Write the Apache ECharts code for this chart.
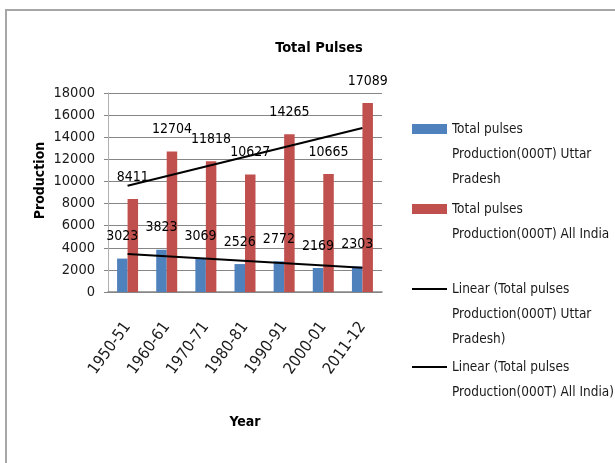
<!DOCTYPE html>
<html>
<head>
<meta charset="utf-8">
<script src="https://cdn.jsdelivr.net/npm/echarts@6/dist/echarts.min.js"></script>
<style>
  html, body { margin: 0; padding: 0; background: #fff; }
  #graph { width: 615px; height: 463px; }
</style>
</head>
<body>
<div id="graph"></div>
<script>
const years = ['1950-51', '1960-61', '1970-71', '1980-81', '1990-91', '2000-01', '2011-12']
const upProduction = [3023, 3823, 3069, 2526, 2772, 2169, 2303]
const indiaProduction = [8411, 12704, 11818, 10627, 14265, 10665, 17089]
// trend line end points (first and last year)
const upTrend = [3430, 2195]
const indiaTrend = [9610, 14840]
const yTicks = [0, 2000, 4000, 6000, 8000, 10000, 12000, 14000, 16000, 18000]

const upName = 'Total pulses Production(000T) Uttar Pradesh'
const indiaName = 'Total pulses Production(000T) All India'
const upTrendName = 'Linear (Total pulses Production(000T) Uttar Pradesh)'
const indiaTrendName = 'Linear (Total pulses Production(000T) All India)'

const legendLines = {}
legendLines[upName] = ['Total pulses', 'Production(000T) Uttar', 'Pradesh']
legendLines[indiaName] = ['Total pulses', 'Production(000T) All India']
legendLines[upTrendName] = ['Linear (Total pulses', 'Production(000T) Uttar', 'Pradesh)']
legendLines[indiaTrendName] = ['Linear (Total pulses', 'Production(000T) All India)']

const FONT = '"Liberation Sans Narrow", "DejaVu Sans Condensed", "Arial Narrow", sans-serif'
const LINE_H = 25

const chart = echarts.init(document.getElementById('graph'))

// icon sits on the first line: pad the text above with blank lines so it stays centred
function legendFor (name, firstLineY, isLine) {
  const lines = legendLines[name]
  const blanks = new Array(lines.length - 1).fill(' ')
  const text = blanks.concat(lines).join('\n')
  return {
    data: [{ name, icon: 'rect' }],
    left: 412,
    top: firstLineY - (2 * lines.length - 1) * LINE_H / 2,
    padding: 0,
    orient: 'vertical',
    itemWidth: 35,
    itemHeight: isLine ? 2 : 10,
    selectedMode: false,
    formatter: () => text,
    textStyle: {
      fontFamily: FONT,
      fontSize: 13.5,
      color: '#1a1a1a',
      lineHeight: LINE_H
    }
  }
}

const barLabel = {
  show: true,
  position: 'top',
  distance: 15,
  color: '#000',
  fontFamily: FONT,
  fontSize: 14
}

const option = {
  animation: false,
  backgroundColor: '#fff',
  title: {
    text: 'Total Pulses',
    left: 314,
    textAlign: 'center',
    top: 36,
    textStyle: { fontFamily: FONT, fontWeight: 'bold', fontSize: 14.5, color: '#000' }
  },
  graphic: [{
    type: 'rect',
    shape: { x: 6, y: 10, width: 700, height: 500 },
    style: { fill: 'none', stroke: '#a6a6a6', lineWidth: 2 },
    silent: true
  }],
  legend: [
    legendFor(upName, 129, false),
    legendFor(indiaName, 209, false),
    legendFor(upTrendName, 289, true),
    legendFor(indiaTrendName, 367, true)
  ],
  grid: { left: 108, right: 233, top: 93, bottom: 171, containLabel: false },
  xAxis: {
    type: 'category',
    data: years,
    name: 'Year',
    nameLocation: 'middle',
    nameGap: 123,
    nameTextStyle: { fontFamily: FONT, fontWeight: 'bold', fontSize: 14, color: '#000' },
    axisLine: { lineStyle: { color: '#868686', width: 1.5 } },
    axisTick: { show: false },
    axisLabel: {
      rotate: 54,
      margin: 32,
      interval: 0,
      fontFamily: FONT,
      fontSize: 16,
      color: '#1a1a1a'
    }
  },
  yAxis: {
    type: 'value',
    min: yTicks[0],
    max: yTicks[yTicks.length - 1],
    interval: yTicks[1] - yTicks[0],
    name: 'Production',
    nameLocation: 'middle',
    nameGap: 61,
    nameTextStyle: {
      fontFamily: FONT, fontWeight: 'bold', fontSize: 14, color: '#000',
      padding: [0, 0, 0, 24]
    },
    axisLine: { show: true, lineStyle: { color: '#b0b0b0' } },
    axisTick: { show: true, length: 4, lineStyle: { color: '#868686' } },
    axisLabel: {
      margin: 13,
      fontFamily: FONT,
      fontSize: 14.5,
      color: '#1a1a1a',
      formatter: v => String(v)
    },
    splitLine: { lineStyle: { color: '#868686', width: 1 } }
  },
  series: [
    {
      name: upName,
      type: 'bar',
      data: upProduction,
      barWidth: 10.5,
      barGap: '0%',
      itemStyle: { color: '#4f81bd' },
      label: barLabel
    },
    {
      name: indiaName,
      type: 'bar',
      data: indiaProduction,
      barWidth: 10.5,
      barGap: '0%',
      itemStyle: { color: '#c0504d' },
      label: barLabel
    },
    {
      name: upTrendName,
      type: 'line',
      symbol: 'none',
      data: [[years[0], upTrend[0]], [years[years.length - 1], upTrend[1]]],
      lineStyle: { color: '#000', width: 2 },
      itemStyle: { color: '#000' },
      z: 5
    },
    {
      name: indiaTrendName,
      type: 'line',
      symbol: 'none',
      data: [[years[0], indiaTrend[0]], [years[years.length - 1], indiaTrend[1]]],
      lineStyle: { color: '#000', width: 2 },
      itemStyle: { color: '#000' },
      z: 5
    }
  ]
}

chart.setOption(option)
</script>
</body>
</html>
